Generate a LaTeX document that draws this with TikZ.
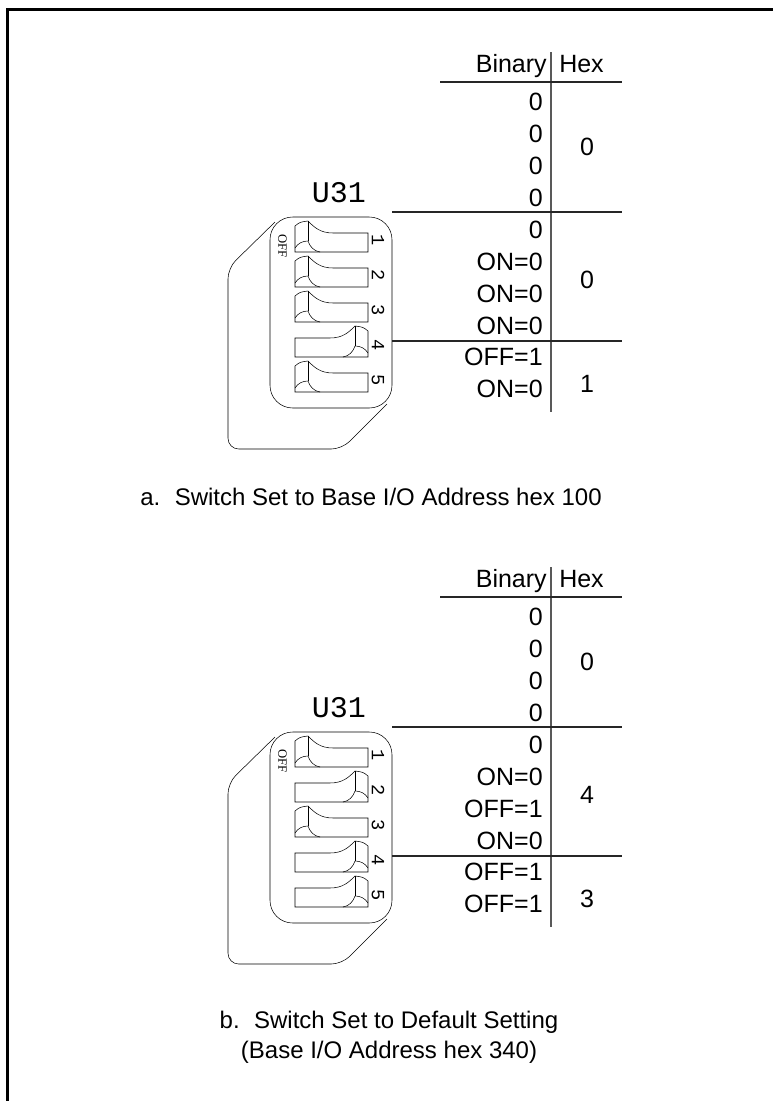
\documentclass[tikz,border=0pt]{standalone}
\usepackage{fontspec}
\setmainfont{Liberation Sans}
\newfontfamily\pinfont{Liberation Mono}
\newfontfamily\offfont{Liberation Serif}

% one rocker of the DIP switch, raised at the left, origin top left
\newcommand{\dipleft}{%
  \draw (0,5) .. controls (5,1) .. (13,0) .. controls (19,6) and (25,12) .. (38,12) -- (73,12) -- (73,31) -- (0,31) -- cycle;
  \draw (13,0) -- (13,20);
  \draw (0,27) .. controls (3,22) and (8,20) .. (13,20);
  \draw (13,20) .. controls (15,26) and (19,30) .. (25,31);
}

\begin{document}
\begin{tikzpicture}[x=0.75pt,y=0.75pt,yscale=-1,xscale=1,
  txt/.style={inner sep=0pt,font=\fontsize{18.75}{22.5}\selectfont},
  captxt/.style={inner sep=0pt,font=\fontsize{18}{22.5}\selectfont},
  bit/.style={txt,anchor=east},
  hexdigit/.style={txt,anchor=center},
  pinno/.style={inner sep=0pt,font=\pinfont\fontsize{14}{16}\selectfont,rotate=-90},
  offlabel/.style={inner sep=0pt,font=\offfont\fontsize{9.5}{11}\selectfont,rotate=-90},
  chiplabel/.style={inner sep=0pt,font=\pinfont\fontsize{22.5}{26}\selectfont},
  tabline/.style={line width=1pt,black!85},
  colline/.style={line width=1.2pt,black!65}]
\useasboundingbox (0,0) rectangle (773,1101);

%Frame
\draw [line width=2.25pt] (7.5,1101) -- (7.5,9.5) -- (773,9.5) ;

%%%%%%%% a.
%Shape: Board
\draw [rounded corners=8]  (275,222) -- (228,268) -- (228,449) -- (342,449) -- (387,404) ;
\draw [rounded corners=17] (270,217) rectangle (392,408) ;
%Switches
\begin{scope}[shift={(295,221)}] \dipleft \end{scope}
\begin{scope}[shift={(295,256)}] \dipleft \end{scope}
\begin{scope}[shift={(295,291)}] \dipleft \end{scope}
\begin{scope}[shift={(368,326)},xscale=-1] \dipleft \end{scope}
\begin{scope}[shift={(295,361)}] \dipleft \end{scope}
% Text Node
\draw (282.5,246) node (offA) [offlabel] {OFF};
\draw (378,240) node (pinA1) [pinno] {1};
\draw (378,275) node (pinA2) [pinno] {2};
\draw (378,310) node (pinA3) [pinno] {3};
\draw (378,345) node (pinA4) [pinno] {4};
\draw (378,380) node (pinA5) [pinno] {5};
\draw (339,192.5) node (chipA) [chiplabel] {U31};

%Table lines
\draw [colline] (551,52) -- (551,412) ;
\draw [tabline] (440,82) -- (622,82) ;
\draw [tabline] (392,212) -- (622,212) ;
\draw [tabline] (392,341) -- (622,341) ;
% Text Node
\draw (547,72) node (binA) [txt,anchor=base east] {Binary};
\draw (559,72) node (hexA) [txt,anchor=base west] {Hex};
\draw (543,102) node (bA1) [bit] {0};
\draw (543,134) node (bA2) [bit] {0};
\draw (543,166) node (bA3) [bit] {0};
\draw (543,198) node (bA4) [bit] {0};
\draw (543,229.5) node (bA5) [bit] {0};
\draw (543,261.5) node (bA6) [bit] {ON=0};
\draw (543,293.5) node (bA7) [bit] {ON=0};
\draw (543,325.5) node (bA8) [bit] {ON=0};
\draw (543,357) node (bA9) [bit] {OFF=1};
\draw (543,389) node (bA10) [bit] {ON=0};
\draw (587,147) node (hA1) [hexdigit] {0};
\draw (587,280) node (hA2) [hexdigit] {0};
\draw (587,384) node (hA3) [hexdigit] {1};
\draw (371,497) node (capA) [captxt] {a.\hspace{0.6em}Switch Set to Base I/O Address hex 100};

%%%%%%%% b.
%Shape: Board
\draw [rounded corners=8]  (275,737) -- (228,783) -- (228,964) -- (342,964) -- (387,919) ;
\draw [rounded corners=17] (270,732) rectangle (392,923) ;
%Switches
\begin{scope}[shift={(295,736)}] \dipleft \end{scope}
\begin{scope}[shift={(368,771)},xscale=-1] \dipleft \end{scope}
\begin{scope}[shift={(295,806)}] \dipleft \end{scope}
\begin{scope}[shift={(368,841)},xscale=-1] \dipleft \end{scope}
\begin{scope}[shift={(368,876)},xscale=-1] \dipleft \end{scope}
% Text Node
\draw (282.5,761) node (offB) [offlabel] {OFF};
\draw (378,755) node (pinB1) [pinno] {1};
\draw (378,790) node (pinB2) [pinno] {2};
\draw (378,825) node (pinB3) [pinno] {3};
\draw (378,860) node (pinB4) [pinno] {4};
\draw (378,895) node (pinB5) [pinno] {5};
\draw (339,707.5) node (chipB) [chiplabel] {U31};

%Table lines
\draw [colline] (551,567) -- (551,927) ;
\draw [tabline] (440,597) -- (622,597) ;
\draw [tabline] (392,727) -- (622,727) ;
\draw [tabline] (392,856) -- (622,856) ;
% Text Node
\draw (547,587) node (binB) [txt,anchor=base east] {Binary};
\draw (559,587) node (hexB) [txt,anchor=base west] {Hex};
\draw (543,617) node (bB1) [bit] {0};
\draw (543,649) node (bB2) [bit] {0};
\draw (543,681) node (bB3) [bit] {0};
\draw (543,713) node (bB4) [bit] {0};
\draw (543,744.5) node (bB5) [bit] {0};
\draw (543,776.5) node (bB6) [bit] {ON=0};
\draw (543,808.5) node (bB7) [bit] {OFF=1};
\draw (543,840.5) node (bB8) [bit] {ON=0};
\draw (543,872) node (bB9) [bit] {OFF=1};
\draw (543,904) node (bB10) [bit] {OFF=1};
\draw (587,662) node (hB1) [hexdigit] {0};
\draw (587,795) node (hB2) [hexdigit] {4};
\draw (587,898.5) node (hB3) [hexdigit] {3};
\draw (389,1037) node (capB) [captxt,align=center] {b.\hspace{0.6em}Switch Set to Default Setting\\(Base I/O Address hex 340)};

\end{tikzpicture}
\end{document}
